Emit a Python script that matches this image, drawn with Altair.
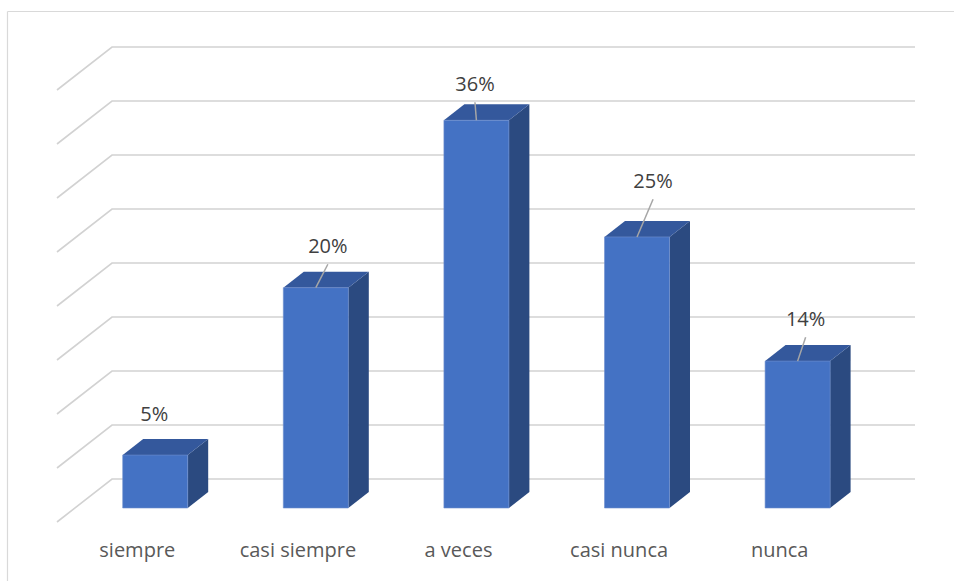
import altair as alt
import pandas as pd

# ---- data ----
categories = ["siempre", "casi siempre", "a veces", "casi nunca", "nunca"]
values = [4.9, 20.4, 35.9, 25.1, 13.6]          # percent
grid_values = [0, 5, 10, 15, 20, 25, 30, 35, 40]  # back-wall gridlines (percent)
# label nudges (category-slot units, percent units) and leader lines
label_dx = [-0.006, 0.075, -0.009, 0.10, 0.05]
label_dy = [3.67, 3.77, 3.27, 5.09, 3.80]
show_leader = [False, True, True, True, True]

# ---- 3D projection constants ----
DX = 0.3425   # depth shift along x (slot units)
DY = 3.98     # depth shift along y (percent units)
D1 = 0.3256   # bar front depth
D2 = 0.698    # bar back depth
HW = 0.2024   # half bar width (slot units)

W, H = 954, 581
XS = alt.Scale(domain=[-0.3549, 5.5853], nice=False, zero=False)
YS = alt.Scale(domain=[-5.463, 48.333], nice=False, zero=False)

def X(f, **kw):
    return alt.X(f, type="quantitative", scale=XS, axis=None, **kw)

def Y(f, **kw):
    return alt.Y(f, type="quantitative", scale=YS, axis=None, **kw)

# gridlines (left wall diagonal + back wall horizontal)
grid_rows = []
for v in grid_values:
    grid_rows += [
        {"g": v, "o": 0, "x": 0.0, "y": v},
        {"g": v, "o": 1, "x": DX, "y": v + DY},
        {"g": v, "o": 2, "x": 5 + DX, "y": v + DY},
    ]
grid_df = pd.DataFrame(grid_rows)

front_rows, side_rows, top_rows, label_rows, leader_rows, cat_rows = [], [], [], [], [], []
for i, (c, v) in enumerate(zip(categories, values)):
    L = i + 0.5 - HW
    R = i + 0.5 + HW
    front_rows.append({"c": c, "x": L + D1 * DX, "x2": R + D1 * DX,
                       "y": D1 * DY, "y2": v + D1 * DY})
    for d in (D1, D2):
        side_rows.append({"c": c, "x": R + d * DX, "y": d * DY, "y2": v + d * DY})
    # top face as a vertical area (parallelogram)
    y1 = v + D1 * DY
    y2 = v + D2 * DY
    L1, L2 = L + D1 * DX, L + D2 * DX
    R1, R2 = R + D1 * DX, R + D2 * DX
    top_rows += [
        {"c": c, "x": L1, "y": y1, "y2": y1},
        {"c": c, "x": L2, "y": y1, "y2": y2},
        {"c": c, "x": R1, "y": y1, "y2": y2},
        {"c": c, "x": R2, "y": y2, "y2": y2},
    ]
    cx = i + 0.5 + D1 * DX
    lx = cx + label_dx[i]
    ly = y1 + label_dy[i]
    label_rows.append({"x": lx, "y": ly, "t": f"{round(v):d}%"})
    if show_leader[i]:
        leader_rows.append({"x": cx, "y": y1, "x2": lx, "y2": ly - 1.6})
    cat_rows.append({"x": i + 0.5, "y": -2.69, "t": c})

front_df = pd.DataFrame(front_rows)
side_df = pd.DataFrame(side_rows)
top_df = pd.DataFrame(top_rows)
label_df = pd.DataFrame(label_rows)
leader_df = pd.DataFrame(leader_rows)
cat_df = pd.DataFrame(cat_rows)

FONT = "Open Sans"

border_top = alt.Chart(pd.DataFrame({"a": [0]})).mark_rule(
    color="#d9d9d9", strokeWidth=1.2
).encode(x=alt.value(7.5), x2=alt.value(W), y=alt.value(11.5))
border_left = alt.Chart(pd.DataFrame({"a": [0]})).mark_rule(
    color="#d9d9d9", strokeWidth=1.2
).encode(x=alt.value(7.5), y=alt.value(11.5), y2=alt.value(H))

grid = alt.Chart(grid_df).mark_line(color="#d2d2d2", strokeWidth=1.6).encode(
    x=X("x"), y=Y("y"), detail="g:N", order="o:Q"
)

side = alt.Chart(side_df).mark_area(orient="vertical", color="#2b4a80").encode(
    x=X("x"), y=Y("y", stack=None), y2="y2:Q", detail="c:N"
)

top = alt.Chart(top_df).mark_area(orient="vertical", color="#34589c").encode(
    x=X("x"), y=Y("y", stack=None), y2="y2:Q", detail="c:N"
)

front = alt.Chart(front_df).mark_rect(color="#4472c4", stroke="#6f8fcf",
                                      strokeWidth=0.6).encode(
    x=X("x"), x2="x2:Q", y=Y("y"), y2="y2:Q"
)

leaders = alt.Chart(leader_df).mark_rule(color="#a6a6a6", strokeWidth=1.5).encode(
    x=X("x"), y=Y("y"), x2="x2:Q", y2="y2:Q"
)

labels = alt.Chart(label_df).mark_text(
    font=FONT, fontSize=20, color="#404040", align="center", baseline="middle"
).encode(x=X("x"), y=Y("y"), text="t:N")

cats = alt.Chart(cat_df).mark_text(
    font=FONT, fontSize=20, color="#595959", align="center", baseline="middle"
).encode(x=X("x"), y=Y("y"), text="t:N")

chart = alt.layer(
    border_top, border_left, grid, side, top, front, leaders, labels, cats
).properties(
    width=W, height=H, padding=0, autosize=alt.AutoSizeParams(type="none"),
    background="white"
).configure_view(stroke=None)

chart.save("out.html", embed_options={"renderer": "svg", "actions": False})
